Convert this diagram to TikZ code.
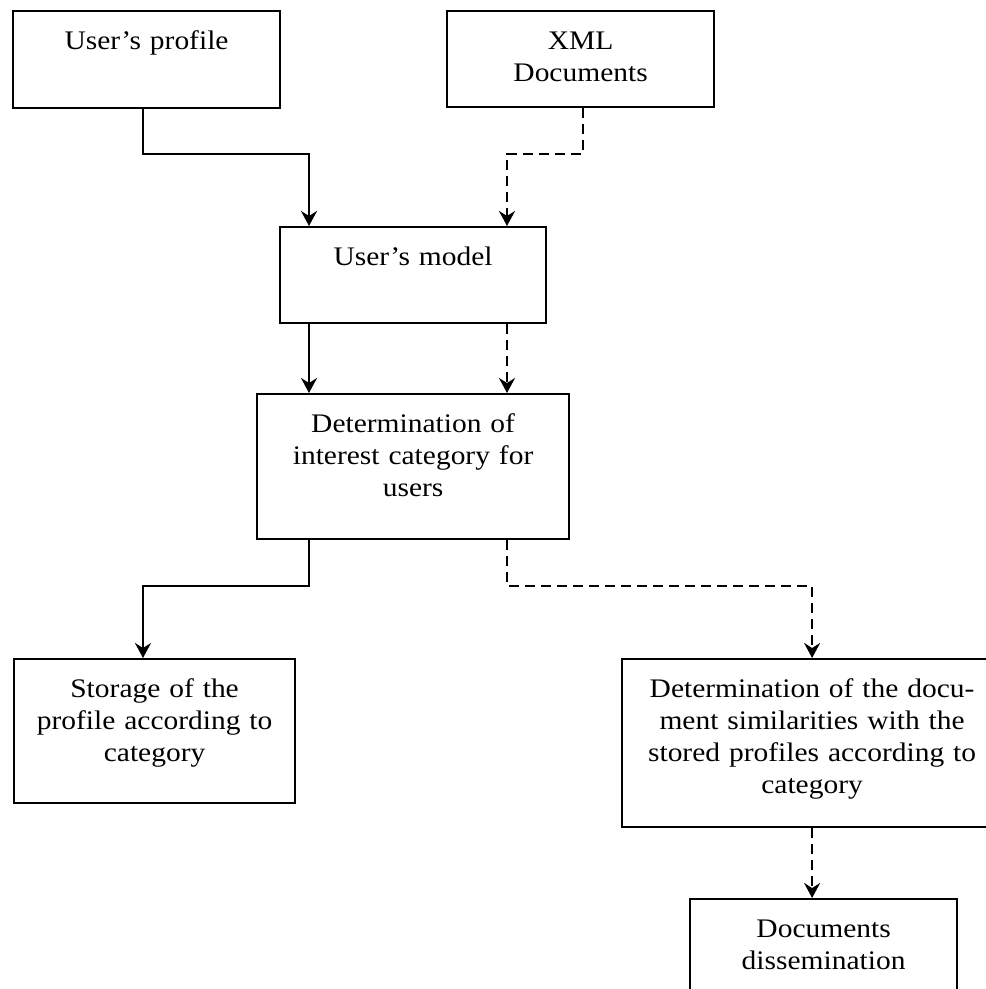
\documentclass[tikz,border=0pt]{standalone}
\usepackage{fontspec}
\setmainfont{Liberation Serif}[FakeStretch=1.1]
\usetikzlibrary{arrows.meta}

\begin{document}
\begin{tikzpicture}[x=0.5pt, y=-0.5pt,
        box/.style 2 args={draw, line width=1.1pt, anchor=north west, inner sep=0pt,
            text width=#1, text height=19pt, text depth=#2, align=center,
            font=\fontsize{13.4}{16}\selectfont},
        flow/.style={draw, line width=1.1pt, -{Stealth[length=7.5pt, width=8pt, inset=2.5pt]}},
        dflow/.style={flow, dash pattern=on 5pt off 3pt}]

        \useasboundingbox (0,0) rectangle (985,989);

        % boxes
        \node[box={133.5pt}{29.5pt}] (prof) at (12,10) {User’s profile};
        \node[box={133.5pt}{29pt}] (xml) at (446,10) {XML\\Documents};
        \node[box={133pt}{29pt}] (model) at (279,226) {User’s model};
        \node[box={156pt}{53.5pt}] (det) at (256,393) {Determination of\\interest category for\\users};
        \node[box={140.5pt}{53pt}] (store) at (13,658) {Storage of the\\profile according to\\category};
        \node[box={190pt}{65pt}] (docsim) at (621,658) {Determination of the docu-\\ment similarities with the\\stored profiles according to\\category};
        \node[box={133.5pt}{31pt}] (diss) at (689,898) {Documents\\dissemination};

        % lanes for the connectors
        \coordinate (laneA) at (143,0);
        \coordinate (laneB) at (309,0);
        \coordinate (laneC) at (507,0);
        \coordinate (laneD) at (583,0);
        \coordinate (rowA) at (0,154);
        \coordinate (rowB) at (0,586);

        \draw[flow] (laneA |- prof.south) -- (laneA |- rowA) -| (laneB |- model.north);
        \draw[dflow] (laneD |- xml.south) -- (laneD |- rowA) -| (laneC |- model.north);
        \draw[flow] (laneB |- model.south) -- (laneB |- det.north);
        \draw[dflow] (laneC |- model.south) -- (laneC |- det.north);
        \draw[flow] (laneB |- det.south) -- (laneB |- rowB) -| (laneA |- store.north);
        \draw[dflow] (laneC |- det.south) -- (laneC |- rowB) -| (docsim.north);
        \draw[dflow] (docsim.south) -- (docsim.south |- diss.north);
\end{tikzpicture}
\end{document}
